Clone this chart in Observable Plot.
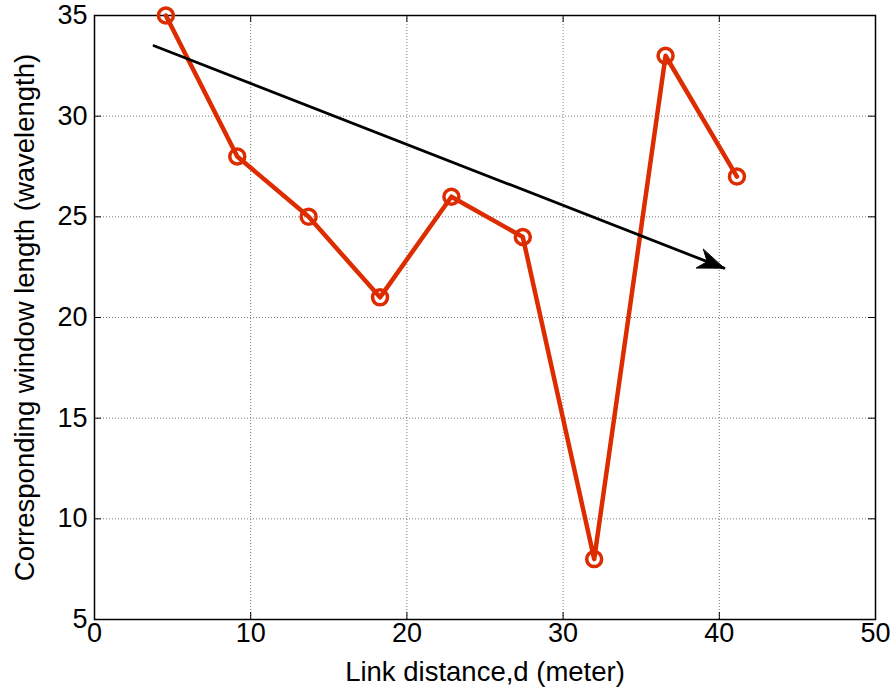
<!DOCTYPE html>
<html>
<head>
<meta charset="utf-8">
<script src="https://cdn.jsdelivr.net/npm/d3@7"></script>
<script src="https://cdn.jsdelivr.net/npm/@observablehq/plot@0.6"></script>
<style>
  html, body { margin: 0; padding: 0; background: #fff; }
  svg { font-family: "Liberation Sans", Arial, sans-serif; }
</style>
</head>
<body>
<div id="chart"></div>
<script>
const distance = [4.57, 9.14, 13.71, 18.28, 22.85, 27.42, 31.99, 36.56, 41.13];
const windowLength = [35, 28, 25, 21, 26, 24, 8, 33, 27];
const xTicks = [0, 10, 20, 30, 40, 50];
const yTicks = [5, 10, 15, 20, 25, 30, 35];
const trend = {x1: 3.81, y1: 33.5, x2: 40.3, y2: 22.45};

const data = distance.map((d, i) => ({d, w: windowLength[i]}));
const W = 896, H = 698, mT = 15, mB = 79, mL = 94, mR = 21;
const fw = W - mL - mR, fh = H - mT - mB;
const red = "#dd2c00";

const trendArrow = Plot.arrow([trend], {
  x1: "x1", y1: "y1", x2: "x2", y2: "y2",
  stroke: "#000", strokeWidth: 2.8, headLength: 0,
  render(index, scales, values, dims, context, next) {
    const g = next(index, scales, values, dims, context);
    const ax = scales.x(trend.x1), ay = scales.y(trend.y1);
    const bx = scales.x(trend.x2), by = scales.y(trend.y2);
    const len = Math.hypot(bx - ax, by - ay);
    const ux = (bx - ax) / len, uy = (by - ay) / len;
    const nx = -uy, ny = ux;
    const L = 26, Wd = 10, notch = 8;
    const pts = [
      [bx, by],
      [bx - L * ux + Wd * nx, by - L * uy + Wd * ny],
      [bx - (L - notch) * ux, by - (L - notch) * uy],
      [bx - L * ux - Wd * nx, by - L * uy - Wd * ny]
    ];
    d3.select(g).append("path")
      .attr("d", "M" + pts.map(p => p.join(",")).join("L") + "Z")
      .attr("fill", "#000").attr("stroke", "#000").attr("stroke-width", 1).attr("stroke-linejoin", "miter");
    return g;
  }
});

const chart = Plot.plot({
  width: W, height: H,
  marginTop: mT, marginBottom: mB, marginLeft: mL, marginRight: mR,
  style: {fontFamily: "Liberation Sans, Arial, sans-serif", fontSize: "27px", color: "#000", background: "#fff"},
  x: {domain: [0, 50], axis: null},
  y: {domain: [5, 35], axis: null},
  marks: [
    Plot.gridX(xTicks, {stroke: "#555", strokeOpacity: 0.8, strokeDasharray: "1,2"}),
    Plot.gridY(yTicks, {stroke: "#555", strokeOpacity: 0.8, strokeDasharray: "1,2"}),
    Plot.tickX(xTicks, {x: d => d, insetTop: fh - 7, stroke: "#000"}),
    Plot.tickX(xTicks, {x: d => d, insetBottom: fh - 7, stroke: "#000"}),
    Plot.tickY(yTicks, {y: d => d, insetRight: fw - 7, stroke: "#000"}),
    Plot.tickY(yTicks, {y: d => d, insetLeft: fw - 7, stroke: "#000"}),
    Plot.frame({stroke: "#000", strokeWidth: 1.5}),
    Plot.text(xTicks, {x: d => d, frameAnchor: "bottom", dy: 22, fontSize: 27}),
    Plot.text(yTicks, {y: d => d, frameAnchor: "left", textAnchor: "end", dx: -7, fontSize: 27}),
    Plot.text(["Link distance,d (meter)"], {frameAnchor: "bottom", dy: 61, fontSize: 27.5}),
    Plot.text(["Corresponding window length (wavelength)"], {frameAnchor: "left", textAnchor: "middle", dx: -69, rotate: -90, fontSize: 27.5}),
    Plot.line(data, {x: "d", y: "w", stroke: red, strokeWidth: 4.5}),
    Plot.dot(data, {x: "d", y: "w", r: 7.5, stroke: red, strokeWidth: 3.5, fill: "none"}),
    trendArrow
  ]
});
document.getElementById("chart").appendChild(chart);
</script>
</body>
</html>
